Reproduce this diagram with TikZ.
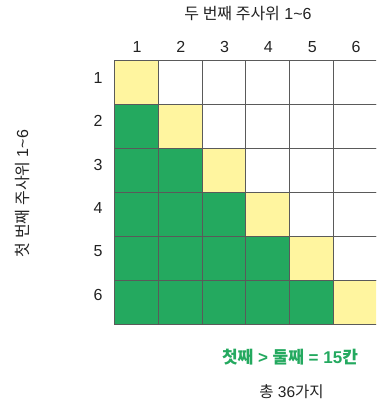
\documentclass[tikz,border=0pt]{standalone}
\usepackage{fontspec}
\setmainfont{Liberation Sans}
\newfontfamily\kr{Noto Sans CJK KR}
\definecolor{cyel}{HTML}{FFF59F}
\definecolor{cgrn}{HTML}{24A95F}
\definecolor{cline}{HTML}{5A5A5A}
\definecolor{ctext}{HTML}{222222}
\begin{document}
\begin{tikzpicture}[x=1pt,y=-1pt,
  cellbox/.style={draw=cline,line width=1pt},
  lbl/.style={text=ctext,font=\fontsize{16}{18}\selectfont,inner sep=0pt}]
\useasboundingbox (0,0) rectangle (376,407);
\clip (0,0) rectangle (376,407);
\foreach \r in {1,...,6}{
  \foreach \c in {1,...,6}{
    \pgfmathsetmacro{\xa}{114.5+(\c-1)*43.8}
    \pgfmathsetmacro{\ya}{60.7+(\r-1)*44}
    \ifnum\r=\c
      \def\fc{cyel}
    \else\ifnum\r>\c
      \def\fc{cgrn}
    \else
      \def\fc{white}
    \fi\fi
    \filldraw[cellbox,fill=\fc] (\xa,\ya) rectangle ++(43.8,44);
  }
}
\foreach \c in {1,...,6}{
  \node[lbl] (col\c) at ({137+(\c-1)*43.8},47) {\c};
}
\foreach \r in {1,...,6}{
  \node[lbl] (row\r) at (98,{77.5+(\r-1)*43.5}) {\r};
}
\node[lbl] (top) at (248,14) {{\kr 두 번째 주사위} 1\textasciitilde6};
\node[lbl,rotate=90] (left) at (22,193.5) {{\kr 첫 번째 주사위} 1\textasciitilde6};
\node[lbl,text=cgrn,font=\fontsize{17}{19}\selectfont\bfseries] (res) at (290,357) {{\kr\bfseries 첫째} > {\kr\bfseries 둘째} = 15{\kr\bfseries 칸}};
\node[lbl,font=\fontsize{15.5}{18}\selectfont] (tot) at (291.5,392) {{\kr 총} 36{\kr 가지}};
\end{tikzpicture}
\end{document}
